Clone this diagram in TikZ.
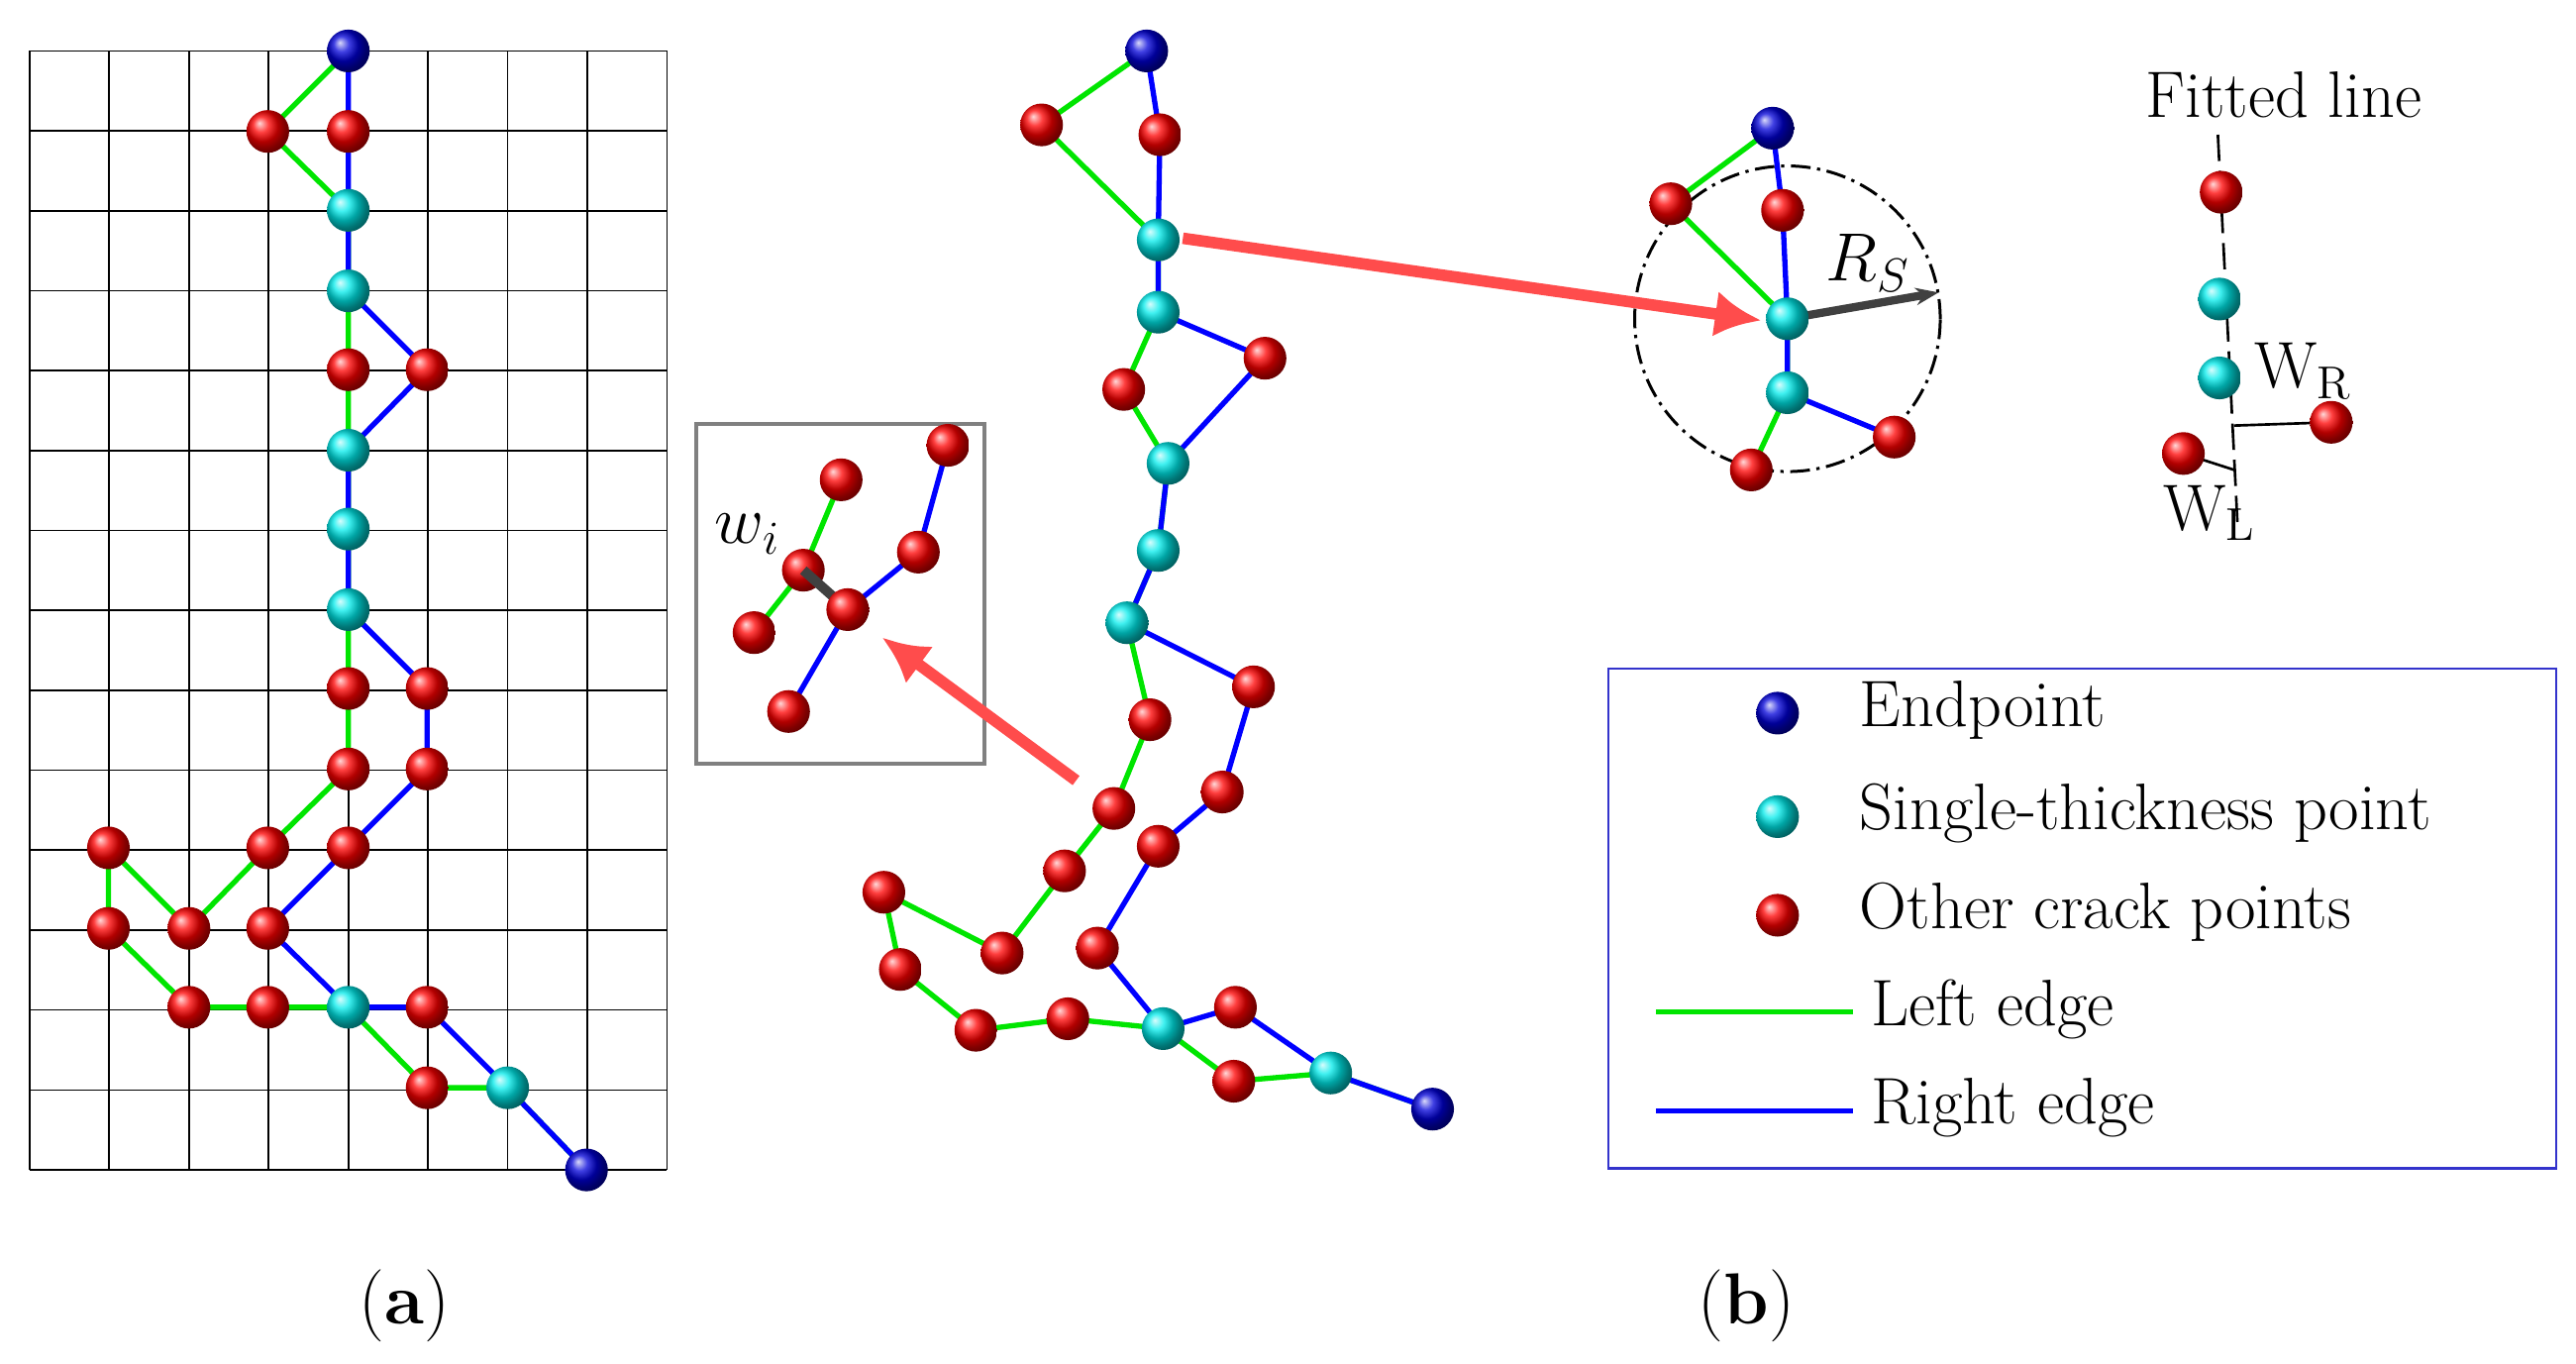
\documentclass[tikz,border=0pt]{standalone}
\usepackage{tikz}
\usetikzlibrary{arrows.meta}
\begin{document}
\begin{tikzpicture}[x=0.5pt,y=-0.5pt,
 R/.style={circle,inner sep=0pt,minimum size=13pt,ball color=red},
 C/.style={circle,inner sep=0pt,minimum size=13pt,ball color=cyan!85!teal},
 B/.style={circle,inner sep=0pt,minimum size=13pt,ball color=blue!85!black},
 L/.style={draw=green!90!black,line width=1.6pt},
 Rt/.style={draw=blue,line width=1.6pt},
 lab/.style={font=\fontsize{20}{22}\selectfont,anchor=west},
 arr/.style={draw=red!70!white,line width=3.5pt,-{Latex[length=14pt,width=14pt]}}]
\useasboundingbox (0,0) rectangle (1568,830);
% grid
\foreach \i in {0,...,8} \draw[line width=0.5pt] (18+48.5*\i,31) -- (18+48.5*\i,712);
\foreach \j in {0,...,14} \draw[line width=0.5pt] (18,31+48.64*\j) -- (406,31+48.64*\j);
% (a) nodes
\path
(212,31) coordinate (a1) (163,80) coordinate (a2) (212,80) coordinate (a3)
(212,128) coordinate (a4) (212,177) coordinate (a5) (212,225) coordinate (a6) (260,225) coordinate (a7)
(212,274) coordinate (a8) (212,322) coordinate (a9) (212,371) coordinate (a10)
(212,419) coordinate (a11) (260,419) coordinate (a12) (212,468) coordinate (a13) (260,468) coordinate (a14)
(66,516) coordinate (a15) (163,516) coordinate (a16) (212,516) coordinate (a17)
(66,565) coordinate (a18) (115,565) coordinate (a19) (163,565) coordinate (a20)
(115,613) coordinate (a21) (163,613) coordinate (a22) (212,613) coordinate (a23) (260,613) coordinate (a24)
(260,662) coordinate (a25) (309,662) coordinate (a26) (357,712) coordinate (a27);
\draw[L,xshift=-1.2pt] (a1)--(a2)--(a4)--(a5)--(a6)--(a8)--(a9)--(a10)--(a11)--(a13)--(a16)--(a19)--(a15)--(a18)--(a21)--(a22)--(a23)--(a25)--(a26)--(a27);
\draw[Rt,xshift=1.2pt] (a1)--(a3)--(a4)--(a5)--(a7)--(a8)--(a9)--(a10)--(a12)--(a14)--(a17)--(a20)--(a23)--(a24)--(a26)--(a27);
\foreach \n in {a2,a3,a6,a7,a11,a12,a13,a14,a15,a16,a17,a18,a19,a20,a21,a22,a24,a25} \node[R] at (\n) {};
\foreach \n in {a4,a5,a8,a9,a10,a23,a26} \node[C] at (\n) {};
\foreach \n in {a1,a27} \node[B] at (\n) {};
% (b)
\path (698,31) coordinate (b1) (634,76) coordinate (b2) (706,82) coordinate (b3) (705,146) coordinate (b4)
(705,190) coordinate (b5) (770,218) coordinate (b6) (684,237) coordinate (b7) (711,282) coordinate (b8)
(705,335) coordinate (b9) (686,379) coordinate (b10) (763,418) coordinate (b11) (700,438) coordinate (b12)
(744,482) coordinate (b13) (678,492) coordinate (b14) (705,515) coordinate (b15) (648,530) coordinate (b16)
(538,543) coordinate (b17) (668,577) coordinate (b18) (610,580) coordinate (b19) (548,590) coordinate (b20)
(752,613) coordinate (b21) (594,627) coordinate (b22) (650,620) coordinate (b23) (708,626) coordinate (b24)
(751,658) coordinate (b25) (810,653) coordinate (b26) (872,675) coordinate (b27);
\draw[L,xshift=-1.2pt] (b1)--(b2)--(b4)--(b5)--(b7)--(b8)--(b9)--(b10)--(b12)--(b14)--(b16)--(b19)--(b17)--(b20)--(b22)--(b23)--(b24)--(b25)--(b26)--(b27);
\draw[Rt,xshift=1.2pt] (b1)--(b3)--(b4)--(b5)--(b6)--(b8)--(b9)--(b10)--(b11)--(b13)--(b15)--(b18)--(b24)--(b21)--(b26)--(b27);
\foreach \n in {b2,b3,b6,b7,b11,b12,b13,b14,b15,b16,b17,b18,b19,b20,b21,b22,b23,b25} \node[R] at (\n) {};
\foreach \n in {b4,b5,b8,b9,b10,b24,b26} \node[C] at (\n) {};
\foreach \n in {b1,b27} \node[B] at (\n) {};
% inset
\node[draw=gray,line width=1.2pt,minimum width=87.5pt,minimum height=103.5pt,inner sep=0pt] (box) at (511.5,361.5) {};
\path (577,271) coordinate (i1) (512,292) coordinate (i2) (559,336) coordinate (i3) (489,347) coordinate (i4)
(516,371) coordinate (i5) (459,385) coordinate (i6) (480,433) coordinate (i7);
\draw[Rt] (i1)--(i3)--(i5)--(i7);
\draw[L] (i2)--(i4)--(i6);
\foreach \n in {i1,i2,i3,i4,i6,i7} \node[R] at (\n) {};
\draw[black!75,line width=3pt] (i4)--(i5);
\node[R] at (i5) {};
\node[font=\fontsize{22}{24}\selectfont] (wi) at (455,325) {$w_i$};
\coordinate (ar1s) at (655,475); \coordinate (ar1e) at (537,388);
\draw[arr] (ar1s)--(ar1e);
% circle detail
\path (1079,78) coordinate (c1) (1017,124) coordinate (c2) (1085,128) coordinate (c3) (1088,194) coordinate (c4)
(1088,239) coordinate (c5) (1153,266) coordinate (c6) (1066,286) coordinate (c7) (1180,178) coordinate (c8);
\draw[dash pattern=on 6pt off 2pt on 1pt off 2pt,line width=0.9pt] (c4) circle[radius=46.5pt];
\draw[L,xshift=-1.2pt] (c1)--(c2)--(c4)--(c5)--(c7);
\draw[Rt,xshift=1.2pt] (c1)--(c3)--(c4)--(c5)--(c6);
\foreach \n in {c2,c3,c6,c7} \node[R] at (\n) {};
\node[B] at (c1) {};
\draw[black!75,line width=2.5pt,-{Stealth[length=7pt]}] (c4)--(c8);
\foreach \n in {c4,c5} \node[C] at (\n) {};
\node[font=\fontsize{20}{22}\selectfont] (rs) at (1137,160) {$R_S$};
\coordinate (ar2s) at (720,145); \coordinate (ar2e) at (1072,195);
\draw[arr] (ar2s)--(ar2e);
% fitted line detail
\node[font=\fontsize{20}{22}\selectfont] (fl) at (1390,58) {Fitted line};
\coordinate (f0) at (1350,82); \coordinate (f9) at (1362,320);
\draw[dash pattern=on 8pt off 3pt,line width=0.8pt] (f0)--(f9);
\path (1352,117) coordinate (f1) (1351,182) coordinate (f2) (1351,230) coordinate (f3) (1419,257) coordinate (f4) (1329,276) coordinate (f5)
(1360,259) coordinate (fm) (1360,286) coordinate (fn);
\draw[line width=0.8pt] (fm)--(f4);
\draw[line width=0.8pt] (f5)--(fn);
\node[R] at (f1) {}; \node[C] at (f2) {}; \node[C] at (f3) {}; \node[R] at (f4) {}; \node[R] at (f5) {};
\node[font=\fontsize{20}{22}\selectfont] (wr) at (1402,226) {W\textsubscript{R}};
\node[font=\fontsize{20}{22}\selectfont] (wl) at (1345,312) {W\textsubscript{L}};
% legend
\node[draw=blue!60!gray,line width=0.8pt,minimum width=288.5pt,minimum height=152pt,inner sep=0pt] (leg) at (1267.5,559) {};
\node[B] (l1) at (1082,434) {}; \node[lab] at (1125,432) {Endpoint};
\node[C] (l2) at (1082,497) {}; \node[lab] at (1125,495) {Single-thickness point};
\node[R] (l3) at (1082,557) {}; \node[lab] at (1125,555) {Other crack points};
\coordinate (l4a) at (1008,616); \coordinate (l4b) at (1128,616);
\draw[L] (l4a)--(l4b); \node[lab] at (1132,614) {Left edge};
\coordinate (l5a) at (1008,676); \coordinate (l5b) at (1128,676);
\draw[Rt] (l5a)--(l5b); \node[lab] at (1132,674) {Right edge};
\node[font=\fontsize{22}{24}\selectfont] (ta) at (246,795) {(\textbf{a})};
\node[font=\fontsize{22}{24}\selectfont] (tb) at (1063,795) {(\textbf{b})};
\end{tikzpicture}
\end{document}
